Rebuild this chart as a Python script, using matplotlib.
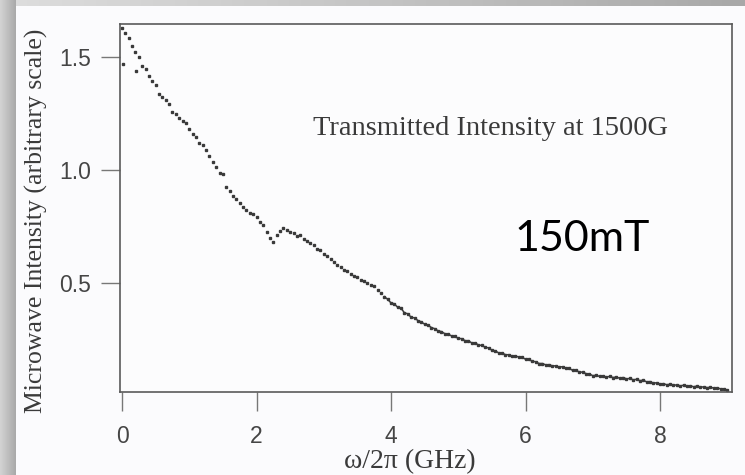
import numpy as np
import matplotlib
matplotlib.use("Agg")
import matplotlib.pyplot as plt
from matplotlib.colors import LinearSegmentedColormap

# measured transmission scan, sampled every 0.05 GHz from 0 to 9 GHz
freq = np.round(np.arange(0, 9.001, 0.05), 2)
intensity = [
    1.630, 1.605, 1.583, 1.548, 1.522, 1.500, 1.462, 1.448, 1.418, 1.392,
    1.375, 1.338, 1.325, 1.308, 1.292, 1.255, 1.248, 1.232, 1.215, 1.208,
    1.180, 1.158, 1.145, 1.118, 1.112, 1.090, 1.060, 1.035, 1.012, 0.985,
    0.982, 0.925, 0.905, 0.885, 0.870, 0.852, 0.838, 0.822, 0.812, 0.805,
    0.790, 0.768, 0.755, 0.728, 0.700, 0.680, 0.712, 0.730, 0.745, 0.735,
    0.728, 0.722, 0.708, 0.712, 0.695, 0.688, 0.676, 0.668, 0.652, 0.645,
    0.628, 0.620, 0.606, 0.592, 0.580, 0.570, 0.558, 0.552, 0.540, 0.532,
    0.525, 0.514, 0.510, 0.502, 0.492, 0.486, 0.470, 0.458, 0.440, 0.428,
    0.412, 0.408, 0.392, 0.388, 0.368, 0.364, 0.348, 0.346, 0.334, 0.328,
    0.318, 0.314, 0.303, 0.298, 0.288, 0.285, 0.276, 0.274, 0.266, 0.264,
    0.255, 0.254, 0.245, 0.245, 0.235, 0.235, 0.226, 0.224, 0.216, 0.213,
    0.203, 0.200, 0.191, 0.191, 0.183, 0.183, 0.176, 0.178, 0.172, 0.171,
    0.163, 0.162, 0.154, 0.152, 0.144, 0.144, 0.138, 0.139, 0.133, 0.134,
    0.128, 0.130, 0.123, 0.122, 0.114, 0.114, 0.106, 0.106, 0.099, 0.098,
    0.090, 0.092, 0.087, 0.089, 0.084, 0.087, 0.082, 0.084, 0.079, 0.082,
    0.076, 0.078, 0.072, 0.074, 0.068, 0.070, 0.063, 0.064, 0.057, 0.059,
    0.053, 0.055, 0.050, 0.052, 0.047, 0.050, 0.045, 0.048, 0.043, 0.046,
    0.041, 0.044, 0.039, 0.041, 0.037, 0.039, 0.035, 0.036, 0.032, 0.031,
    0.027,
]
# stray readings near the start of the sweep
stray_freq = [0.02, 0.21]
stray_int = [1.468, 1.44]

xticks = [0, 2, 4, 6, 8]
yticks = [0.5, 1.0, 1.5]

ink = "#3a3a3a"
axis_gray = "#5a5a5a"

fig = plt.figure(figsize=(7.45, 4.75), dpi=100)
fig.patch.set_facecolor("#fbfbfd")

# slide frame: gray gradient strips on the left and top edges
bg = fig.add_axes([0, 0, 1, 1], zorder=-5)
bg.set_axis_off()
grad = np.linspace(0, 1, 64).reshape(1, -1)
side_cmap = LinearSegmentedColormap.from_list("side", ["#d4d4d4", "#a9a9a9"])
top_cmap = LinearSegmentedColormap.from_list("top", ["#dcdcdc", "#c4c4c4", "#a8a8a8"])
bg.imshow(grad, extent=(0, 16, 475, 0), cmap=side_cmap, aspect="auto")
bg.imshow(grad, extent=(16, 745, 6, 0), cmap=top_cmap, aspect="auto")
bg.set_xlim(0, 745)
bg.set_ylim(475, 0)

ax = fig.add_axes([120 / 745, 1 - 392 / 475, 612 / 745, 368 / 475])
ax.set_facecolor("#fcfcfd")

freq = np.asarray(freq)
intensity = np.asarray(intensity)
dense = freq >= 3.9
ax.plot(freq, intensity, ls="none", marker="s", ms=1.5, color=ink)
ax.plot(freq[dense], intensity[dense], lw=1.1, color=ink)
ax.plot(stray_freq, stray_int, ls="none", marker="s", ms=1.5, color=ink)

ax.set_xlim(-0.03, 9.07)
ax.set_ylim(0.018, 1.646)
ax.set_xticks(xticks)
ax.set_xticklabels([str(t) for t in xticks])
ax.set_yticks(yticks)
ax.set_yticklabels([f"{t:.1f}" for t in yticks])

for s in ax.spines.values():
    s.set_color(axis_gray)
    s.set_linewidth(1.2)
ax.tick_params(direction="out", length=14, width=1.0, color="#777777",
               labelcolor="#454545", labelsize=16.5, pad=7)
ax.tick_params(axis="x", pad=10)
for lab in ax.get_xticklabels() + ax.get_yticklabels():
    lab.set_family("Liberation Sans")

ax.set_xlabel("ω/2π (GHz)", family="Liberation Serif", fontsize=20, color=ink)
ax.xaxis.set_label_coords(0.473, -0.155)
ax.set_ylabel("Microwave Intensity (arbitrary scale)", family="Liberation Serif",
              fontsize=18.5, color=ink)
ax.yaxis.set_label_coords(-0.118, 0.465)

ax.text(0.605, 0.717, "Transmitted Intensity at 1500G", transform=ax.transAxes,
        family="Liberation Serif", fontsize=20.5, color=ink, ha="center", va="center")
ax.text(0.755, 0.416, "150mT", transform=ax.transAxes, family="Lato",
        fontsize=31, color="black", ha="center", va="center")

fig.savefig("out.png", dpi=100)
